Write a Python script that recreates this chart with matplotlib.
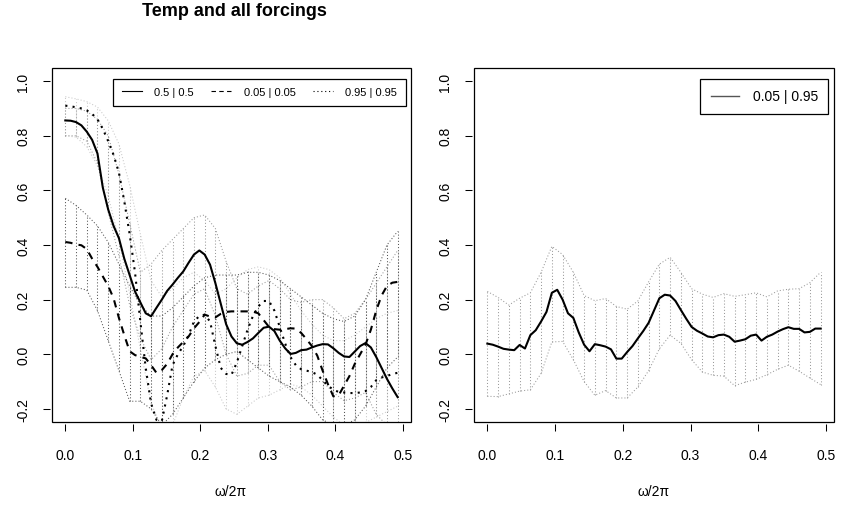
import numpy as np
import matplotlib
matplotlib.use("Agg")
import matplotlib.pyplot as plt
from matplotlib.lines import Line2D
from matplotlib.patches import Rectangle

plt.rcParams['font.family'] = ['Liberation Sans', 'DejaVu Sans']

# frequency grids: lines at every point, bands at every other point
freq_line = np.arange(63) / 126
freq_band = np.arange(32) / 63

# left panel, median lines
s_mid = [0.856, 0.855, 0.850, 0.838, 0.815, 0.785, 0.735, 0.610, 0.530, 0.470,
         0.425, 0.350, 0.290, 0.230, 0.190, 0.150, 0.139, 0.170, 0.200, 0.232,
         0.255, 0.280, 0.303, 0.335, 0.365, 0.380, 0.365, 0.328, 0.260, 0.185,
         0.110, 0.065, 0.040, 0.035, 0.045, 0.058, 0.078, 0.097, 0.101, 0.085,
         0.050, 0.022, 0.001, 0.005, 0.015, 0.017, 0.025, 0.032, 0.037, 0.036,
         0.022, 0.005, -0.008, -0.010, 0.010, 0.030, 0.041, 0.025, -0.010, -0.050,
         -0.090, -0.125, -0.157]
d_mid = [0.411, 0.408, 0.402, 0.399, 0.385, 0.350, 0.320, 0.285, 0.250, 0.205,
         0.133, 0.070, 0.011, -0.003, -0.010, -0.015, -0.040, -0.068, -0.058, -0.035,
         0.000, 0.025, 0.045, 0.065, 0.095, 0.118, 0.145, 0.138, 0.135, 0.148,
         0.155, 0.157, 0.157, 0.157, 0.157, 0.156, 0.150, 0.125, 0.100, 0.092,
         0.090, 0.092, 0.095, 0.094, 0.078, 0.055, 0.030, -0.005, -0.060, -0.110,
         -0.154, -0.150, -0.115, -0.080, -0.035, 0.000, 0.035, 0.090, 0.160, 0.215,
         0.250, 0.262, 0.265]
p_mid = [0.910, 0.908, 0.904, 0.900, 0.893, 0.880, 0.860, 0.825, 0.780, 0.730,
         0.665, 0.560, 0.440, 0.300, 0.120, -0.050, -0.180, -0.240, -0.245, -0.150,
         -0.040, 0.000, 0.030, 0.070, 0.120, 0.140, 0.145, 0.120, 0.030, -0.050,
         -0.072, -0.075, -0.030, 0.030, 0.090, 0.140, 0.175, 0.195, 0.195, 0.160,
         0.100, 0.040, -0.010, -0.040, -0.055, -0.060, -0.065, -0.075, -0.095, -0.115,
         -0.130, -0.138, -0.140, -0.142, -0.142, -0.140, -0.135, -0.120, -0.095, -0.085,
         -0.080, -0.072, -0.068]

# left panel, bands
s_hi = [0.90, 0.90, 0.89, 0.86, 0.80, 0.66, 0.48, 0.30, 0.33, 0.38, 0.42, 0.46,
        0.50, 0.51, 0.46, 0.34, 0.24, 0.22, 0.25, 0.27, 0.24, 0.20, 0.19, 0.20,
        0.20, 0.17, 0.13, 0.15, 0.20, 0.26, 0.32, 0.38]
s_lo = [0.80, 0.80, 0.78, 0.70, 0.52, 0.36, 0.18, 0.06, -0.02, 0.02, 0.10, 0.16,
        0.22, 0.24, 0.14, 0.00, -0.08, -0.07, -0.04, -0.04, -0.10, -0.13, -0.12, -0.10,
        -0.10, -0.14, -0.17, -0.16, -0.14, -0.22, -0.26, -0.26]
d_hi = [0.571, 0.545, 0.51, 0.47, 0.41, 0.33, 0.25, 0.18, 0.14, 0.14, 0.17, 0.21,
        0.25, 0.28, 0.29, 0.29, 0.29, 0.30, 0.30, 0.29, 0.27, 0.24, 0.21, 0.18,
        0.15, 0.13, 0.12, 0.14, 0.20, 0.30, 0.40, 0.45]
d_lo = [0.245, 0.245, 0.235, 0.16, 0.05, -0.06, -0.172, -0.172, -0.20, -0.26, -0.22, -0.16,
        -0.10, -0.05, -0.02, 0.00, 0.01, -0.02, -0.05, -0.08, -0.10, -0.12, -0.15, -0.19,
        -0.24, -0.26, -0.26, -0.24, -0.19, -0.12, -0.05, -0.01]
p_hi = [0.943, 0.935, 0.925, 0.905, 0.855, 0.77, 0.62, 0.44, 0.27, 0.21, 0.24, 0.28,
        0.30, 0.27, 0.22, 0.24, 0.28, 0.31, 0.32, 0.31, 0.28, 0.22, 0.16, 0.11,
        0.07, 0.05, 0.05, 0.07, 0.10, 0.13, 0.15, 0.16]
p_lo = [0.80, 0.795, 0.76, 0.69, 0.58, 0.42, 0.22, 0.02, -0.18, -0.27, -0.26, -0.16,
        -0.08, -0.06, -0.12, -0.20, -0.22, -0.19, -0.16, -0.15, -0.13, -0.11, -0.12, -0.15,
        -0.19, -0.23, -0.26, -0.26, -0.25, -0.23, -0.21, -0.19]

# right panel
r_mid = [0.039, 0.035, 0.028, 0.020, 0.017, 0.015, 0.034, 0.021, 0.070, 0.088,
         0.120, 0.155, 0.225, 0.236, 0.200, 0.150, 0.133, 0.080, 0.035, 0.011,
         0.037, 0.033, 0.028, 0.018, -0.016, -0.016, 0.008, 0.030, 0.058, 0.085,
         0.115, 0.160, 0.205, 0.218, 0.215, 0.195, 0.162, 0.130, 0.100, 0.086,
         0.076, 0.065, 0.062, 0.070, 0.072, 0.064, 0.046, 0.050, 0.055, 0.068,
         0.072, 0.050, 0.064, 0.072, 0.083, 0.092, 0.099, 0.093, 0.093, 0.080,
         0.082, 0.094, 0.094]
r_hi = [0.230, 0.208, 0.180, 0.205, 0.225, 0.300, 0.395, 0.365, 0.300, 0.215, 0.196, 0.204,
        0.175, 0.165, 0.195, 0.265, 0.330, 0.355, 0.300, 0.240, 0.220, 0.208, 0.222, 0.212,
        0.218, 0.225, 0.210, 0.232, 0.238, 0.240, 0.262, 0.300]
r_lo = [-0.154, -0.155, -0.145, -0.135, -0.130, -0.070, 0.045, 0.047, -0.020, -0.100, -0.150, -0.133,
        -0.160, -0.160, -0.120, -0.060, 0.020, 0.070, 0.040, -0.020, -0.065, -0.077, -0.080, -0.115,
        -0.102, -0.092, -0.075, -0.055, -0.040, -0.062, -0.087, -0.111]

left_labels = ['0.5 | 0.5', '0.05 | 0.05', '0.95 | 0.95']
right_label = '0.05 | 0.95'
xticks = [0.0, 0.1, 0.2, 0.3, 0.4, 0.5]
yticks = [-0.2, 0.0, 0.2, 0.4, 0.6, 0.8, 1.0]

DOT = (0, (1, 2))


def band(ax, lo, hi, color):
    ax.vlines(freq_band, lo, hi, colors=color, linestyles=[DOT], lw=0.75)
    ax.plot(freq_band, lo, color=color, ls=DOT, lw=0.75)
    ax.plot(freq_band, hi, color=color, ls=DOT, lw=0.75)


def style(ax):
    ax.set_xlim(-0.0197, 0.5118)
    ax.set_ylim(-0.248, 1.048)
    for s in ax.spines.values():
        s.set_visible(False)
    ax.spines['left'].set_visible(True)
    ax.spines['bottom'].set_visible(True)
    ax.spines['left'].set_position(('outward', 1.5))
    ax.spines['bottom'].set_position(('outward', 1.5))
    ax.spines['left'].set_color('none')
    ax.spines['bottom'].set_color('none')
    ax.add_patch(Rectangle((0, 0), 1, 1, transform=ax.transAxes, fill=False,
                           ec='black', lw=0.9, clip_on=False, zorder=5))
    ax.set_xticks(xticks)
    ax.set_xticklabels(['%.1f' % v for v in xticks])
    ax.set_yticks(yticks)
    ax.set_yticklabels(['%.1f' % v for v in yticks])
    ax.tick_params(length=5.2, width=0.75, labelsize=10, pad=9, direction='out')
    ax.tick_params(axis='x', pad=12)
    for lab in ax.get_yticklabels():
        lab.set_rotation(90)
        lab.set_va('center')


fig = plt.figure(figsize=(8.41, 5.10), dpi=100)
ax1 = fig.add_axes([52 / 841, 1 - 423 / 510, 359 / 841, 354 / 510])
ax2 = fig.add_axes([474 / 841, 1 - 423 / 510, 360 / 841, 354 / 510])

# left panel
band(ax1, p_lo, p_hi, '#c8c8c8')
band(ax1, s_lo, s_hi, '#9a9a9a')
band(ax1, d_lo, d_hi, '#555555')
ax1.plot(freq_line, s_mid, color='black', lw=1.5, ls='-')
ax1.plot(freq_line, d_mid, color='black', lw=1.5, ls=(0, (3.5, 3)))
ax1.plot(freq_line, p_mid, color='black', lw=1.5, ls=(0, (1, 2.5)))
style(ax1)

handles = [Line2D([], [], color='black', lw=0.8, ls='-'),
           Line2D([], [], color='black', lw=0.8, ls=(0, (4, 3))),
           Line2D([], [], color='black', lw=0.8, ls=(0, (1, 2.5)))]
leg = ax1.legend(handles, left_labels, ncol=3, loc='upper right',
                 bbox_to_anchor=(0.985, 0.969), fontsize=8, frameon=True,
                 fancybox=False, edgecolor='black', framealpha=1,
                 handlelength=1.8, handletextpad=1.1, columnspacing=1.6,
                 borderpad=0.75, borderaxespad=0)
leg.get_frame().set_linewidth(0.9)

# right panel
band(ax2, r_lo, r_hi, '#9a9a9a')
ax2.plot(freq_line, r_mid, color='black', lw=1.5)
style(ax2)
leg2 = ax2.legend([Line2D([], [], color='#555555', lw=1.0)], [right_label],
                  loc='upper right', bbox_to_anchor=(0.984, 0.969), fontsize=10,
                  frameon=True, fancybox=False, edgecolor='black', framealpha=1,
                  handlelength=2.0, handletextpad=1.0, borderpad=0.75,
                  borderaxespad=0)
leg2.get_frame().set_linewidth(0.9)

fig.text(234 / 841, 1 - 16 / 510, 'Temp and all forcings', ha='center',
         va='baseline', fontsize=13, fontweight='bold')
fig.text(231 / 841, 1 - 492 / 510, 'ω/2π', ha='center', va='center', fontsize=10)
fig.text(654 / 841, 1 - 492 / 510, 'ω/2π', ha='center', va='center', fontsize=10)

fig.savefig('out.png', dpi=100)
